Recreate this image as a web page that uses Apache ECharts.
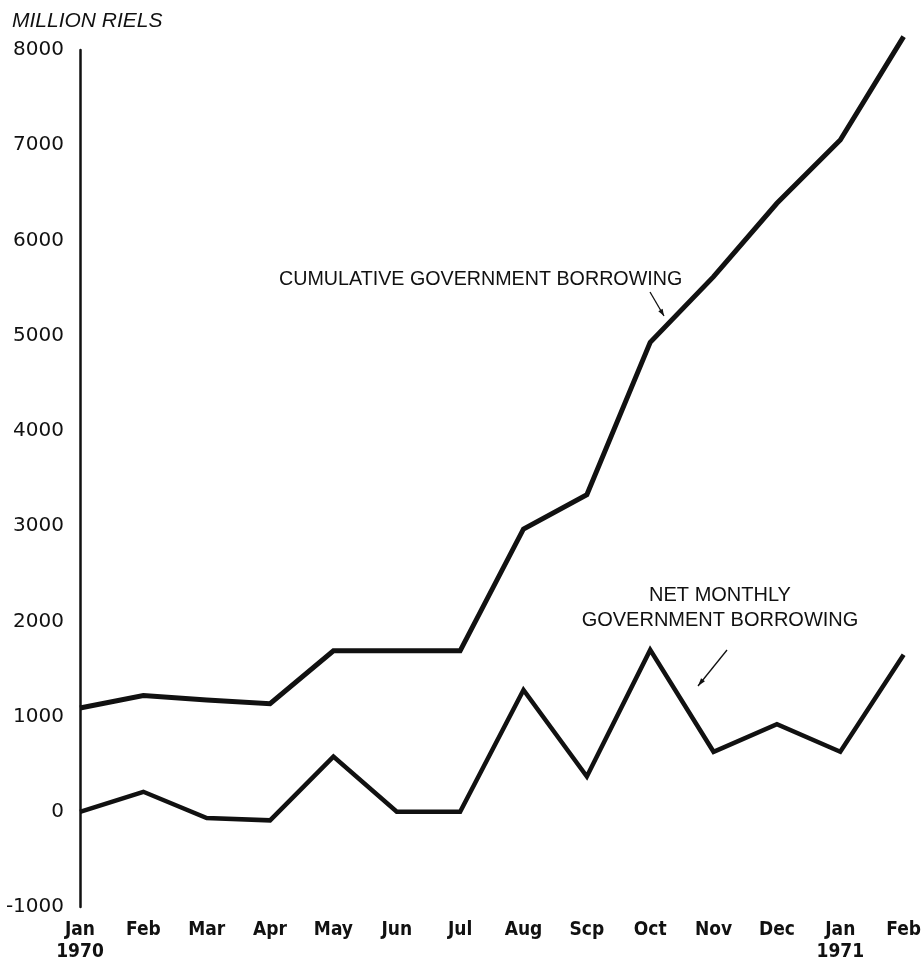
<!DOCTYPE html>
<html>
<head>
<meta charset="utf-8">
<script src="https://cdn.jsdelivr.net/npm/echarts@6/dist/echarts.min.js"></script>
<style>
html,body{margin:0;padding:0;background:#fff;}
#chart{width:924px;height:964px;}
</style>
</head>
<body>
<div id="chart"></div>
<script>
// ---- data ----
var months = ['Jan\n1970','Feb','Mar','Apr','May','Jun','Jul','Aug','Scp','Oct','Nov','Dec','Jan\n1971','Feb'];
var cumulative = [1090, 1220, 1175, 1135, 1690, 1690, 1690, 2970, 3330, 4930, 5620, 6390, 7055, 8140];
var netMonthly = [0, 210, -65, -90, 580, 0, 0, 1280, 370, 1700, 630, 920, 630, 1650];
var yTicks = { min: -1000, max: 8000, step: 1000 };
var unitLabel = 'MILLION RIELS';
var cumLabel = 'CUMULATIVE GOVERNMENT BORROWING';
var netLabel = 'NET MONTHLY\nGOVERNMENT BORROWING';

var ink = '#111';
var chart = echarts.init(document.getElementById('chart'), null, {renderer: 'canvas'});

function arrow(x1, y1, x2, y2, len, w) {
  var a = Math.atan2(y2 - y1, x2 - x1);
  var p1 = [x2 - len * Math.cos(a) + w * Math.sin(a), y2 - len * Math.sin(a) - w * Math.cos(a)];
  var p2 = [x2 - len * Math.cos(a) - w * Math.sin(a), y2 - len * Math.sin(a) + w * Math.cos(a)];
  return [
    {type: 'line', shape: {x1: x1, y1: y1, x2: x2, y2: y2}, style: {stroke: ink, lineWidth: 1.3}},
    {type: 'polygon', shape: {points: [[x2, y2], p1, p2]}, style: {fill: ink}}
  ];
}

var graphics = [
  {type: 'text', left: 12, top: 11, style: {text: unitLabel, font: 'italic 21px "Liberation Sans", Arial, sans-serif', fill: ink}},
  {type: 'text', left: 279, top: 270, style: {text: cumLabel, font: '19.7px "Liberation Sans", Arial, sans-serif', fill: ink}},
  {type: 'text', x: 720, y: 583, style: {text: netLabel, font: '20px "Liberation Sans", Arial, sans-serif', fill: ink, align: 'center', lineHeight: 25}}
].concat(arrow(650, 292, 664, 316, 7, 2.5)).concat(arrow(727, 650, 698, 686, 8, 2.5));

chart.setOption({
  animation: false,
  backgroundColor: '#fff',
  grid: {left: 80, right: 19, top: 50, bottom: 57, containLabel: false},
  xAxis: {
    type: 'category',
    data: months,
    boundaryGap: false,
    axisLine: {show: false, onZero: false},
    axisTick: {show: false},
    splitLine: {show: false},
    axisLabel: {
      interval: 0, color: ink, fontSize: 19, fontWeight: 'bold', lineHeight: 22, margin: 12,
      fontFamily: '"Liberation Sans Narrow", "DejaVu Sans Condensed", sans-serif'
    }
  },
  yAxis: {
    type: 'value',
    min: yTicks.min, max: yTicks.max, interval: yTicks.step,
    axisLine: {show: true, lineStyle: {color: ink, width: 2.5}},
    axisTick: {show: false},
    splitLine: {show: false},
    axisLabel: {color: ink, fontSize: 20, margin: 16, fontFamily: '"DejaVu Sans", sans-serif',
      formatter: function (v) { return String(v); }}
  },
  series: [
    {type: 'line', name: 'Cumulative', data: cumulative, symbol: 'none', clip: false,
     lineStyle: {color: ink, width: 5, join: 'miter'}},
    {type: 'line', name: 'Net monthly', data: netMonthly, symbol: 'none', clip: false,
     lineStyle: {color: ink, width: 4.5, join: 'miter'}}
  ],
  graphic: graphics
});
</script>
</body>
</html>
